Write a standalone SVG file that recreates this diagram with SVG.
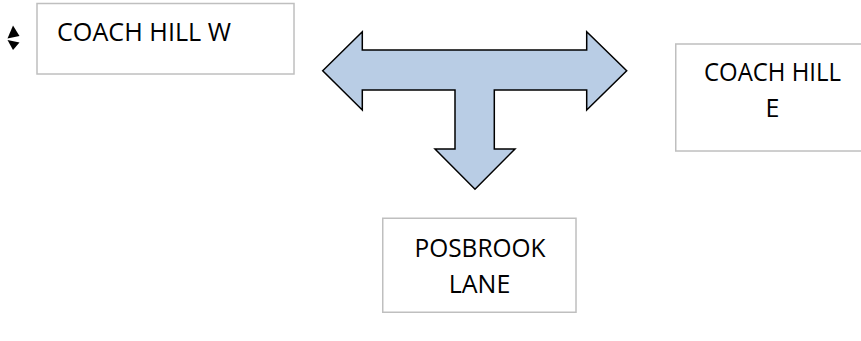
<svg xmlns="http://www.w3.org/2000/svg" width="861" height="341" viewBox="0 0 861 341">
<style>
.box{fill:#ffffff;stroke:#bfbfbf;stroke-width:1.5}
.lbl{font-family:"Open Sans","Noto Sans","Liberation Sans",sans-serif;font-size:25px;fill:#000000}
.arrow{fill:#b9cde5;stroke:#000000;stroke-width:1.5;stroke-linejoin:miter}
.glyph{fill:#000000}
</style>
<rect width="861" height="341" fill="#ffffff"/>
<g id="glyph">
<polygon class="glyph" points="13,25.5 19.5,36 7.5,38.5"/>
<polygon class="glyph" points="7.5,40 19.5,42.5 13,50"/>
</g>
<g id="coach-hill-w">
<rect class="box" x="37" y="3.5" width="257" height="70.5"/>
<text class="lbl" x="57" y="41" textLength="174" lengthAdjust="spacingAndGlyphs">COACH HILL W</text>
</g>
<g id="coach-hill-e">
<rect class="box" x="675.75" y="44" width="195" height="107"/>
<text class="lbl" x="772.5" y="81" text-anchor="middle" textLength="137" lengthAdjust="spacingAndGlyphs">COACH HILL</text>
<text class="lbl" x="772.5" y="117" text-anchor="middle">E</text>
</g>
<g id="posbrook-lane">
<rect class="box" x="382.75" y="218.25" width="193.25" height="94"/>
<text class="lbl" x="480" y="256.5" text-anchor="middle" textLength="131" lengthAdjust="spacingAndGlyphs">POSBROOK</text>
<text class="lbl" x="479.5" y="292.5" text-anchor="middle">LANE</text>
</g>
<g id="connectors">
<polygon class="arrow" points="322.7,70.7 362.3,31.7 362.3,50 586.7,50 586.7,31.7 626.7,70.7 586.7,110 586.7,90 494.3,90 494.3,149 515,149 475,189.3 435,149 455,149 455,90 362.3,90 362.3,110"/>
</g>
</svg>
